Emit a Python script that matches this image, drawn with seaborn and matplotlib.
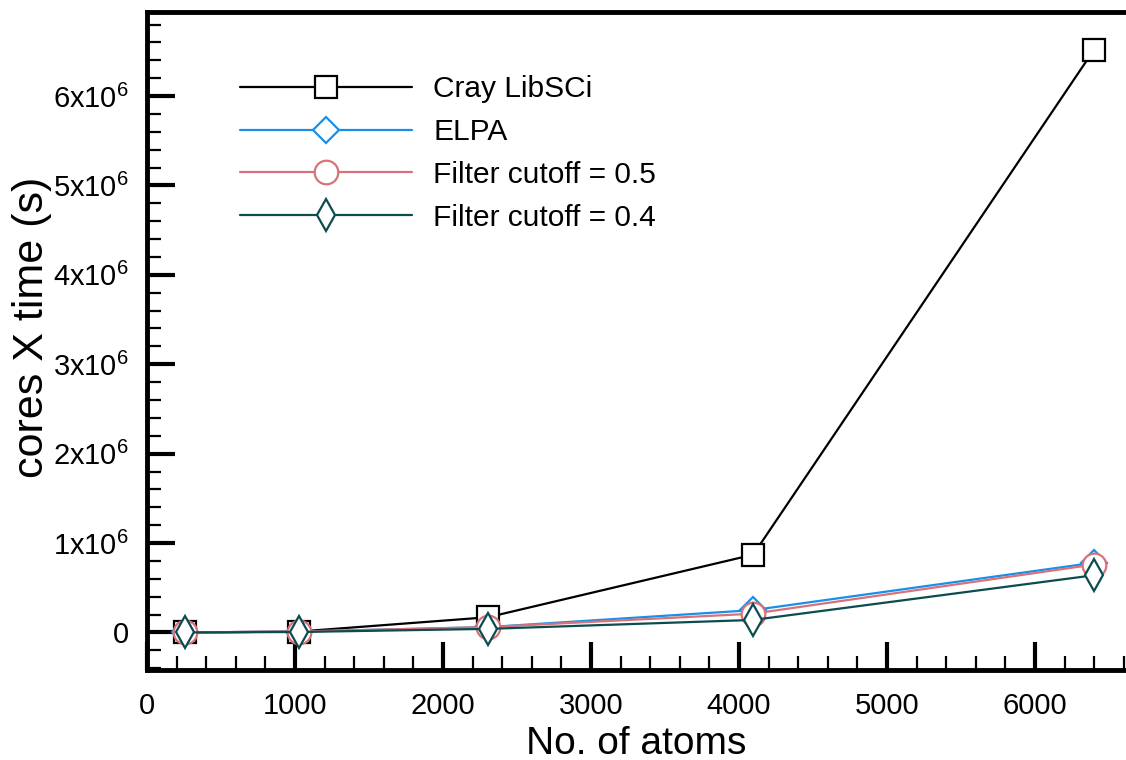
import numpy as np
import pandas as pd
import matplotlib
matplotlib.use("Agg")
import matplotlib.pyplot as plt
import seaborn as sns
from matplotlib.ticker import MultipleLocator, FuncFormatter

# values
atoms = [256, 1024, 2304, 4096, 6400]
cray = [0.0, 0.01e6, 0.17e6, 0.87e6, 6.52e6]
elpa = [0.0, 0.01e6, 0.06e6, 0.25e6, 0.78e6]
filt05 = [0.0, 0.01e6, 0.06e6, 0.21e6, 0.76e6]
filt04 = [0.0, 0.005e6, 0.04e6, 0.14e6, 0.64e6]

names = ["Cray LibSCi", "ELPA", "Filter cutoff = 0.5", "Filter cutoff = 0.4"]
colors = ["#000000", "#1a8fe8", "#d8727a", "#0b4c4e"]
markers = ["s", "D", "o", "d"]
msizes = [16.5, 13.5, 17, 16]

sns.set_style("white")
plt.rcParams['font.family'] = ['Liberation Sans', 'DejaVu Sans']
plt.rcParams['mathtext.fontset'] = 'custom'
plt.rcParams['mathtext.rm'] = 'Liberation Sans'
plt.rcParams['mathtext.it'] = 'Liberation Sans'
plt.rcParams['text.color'] = 'black'
plt.rcParams['axes.labelcolor'] = 'black'

fig = plt.figure(figsize=(11.26, 7.6), dpi=100)
ax = fig.add_axes([147/1126, 90/760, 1 - 147/1126, (670 - 12)/760])

for name, vals, c, m, ms in zip(names, [cray, elpa, filt05, filt04], colors, markers, msizes):
    sns.lineplot(x=atoms, y=vals, color=c, marker=m, markersize=ms,
                 mfc='white', mec=c, mew=1.6, lw=1.6, label=name, ax=ax)

ax.set_xlim(0, 6615)
ax.set_ylim(-0.42e6, 6.94e6)
ax.xaxis.set_major_locator(MultipleLocator(1000))
ax.xaxis.set_minor_locator(MultipleLocator(200))
ax.yaxis.set_major_locator(MultipleLocator(1e6))
ax.yaxis.set_minor_locator(MultipleLocator(0.2e6))

def yfmt(v, pos):
    n = int(round(v / 1e6))
    if n == 0:
        return "0"
    return r"%dx10$^{6}$" % n

ax.yaxis.set_major_formatter(FuncFormatter(yfmt))
ax.tick_params(which='major', direction='in', length=20, width=3, labelsize=21,
               colors='black', bottom=True, left=True, top=False, right=False)
ax.tick_params(which='minor', direction='in', length=10, width=1.6, colors='black',
               bottom=True, left=True, top=False, right=False)
ax.tick_params(axis='x', which='major', pad=16)
ax.tick_params(axis='y', which='major', pad=13)

for s in ['left', 'bottom', 'top']:
    ax.spines[s].set_linewidth(3.5)
    ax.spines[s].set_color('black')
ax.spines['right'].set_visible(False)

ax.set_xlabel("No. of atoms", fontsize=28, labelpad=4)
ax.set_ylabel("cores X time (s)", fontsize=31)
ax.yaxis.set_label_coords(-0.097, 0.52)
plt.grid(False)

leg = ax.legend(loc='upper left', bbox_to_anchor=(0.068, 0.945), frameon=False,
                fontsize=21.5, handlelength=5.75, handletextpad=0.7, labelspacing=0.5)

plt.savefig("out.png", dpi=100)
